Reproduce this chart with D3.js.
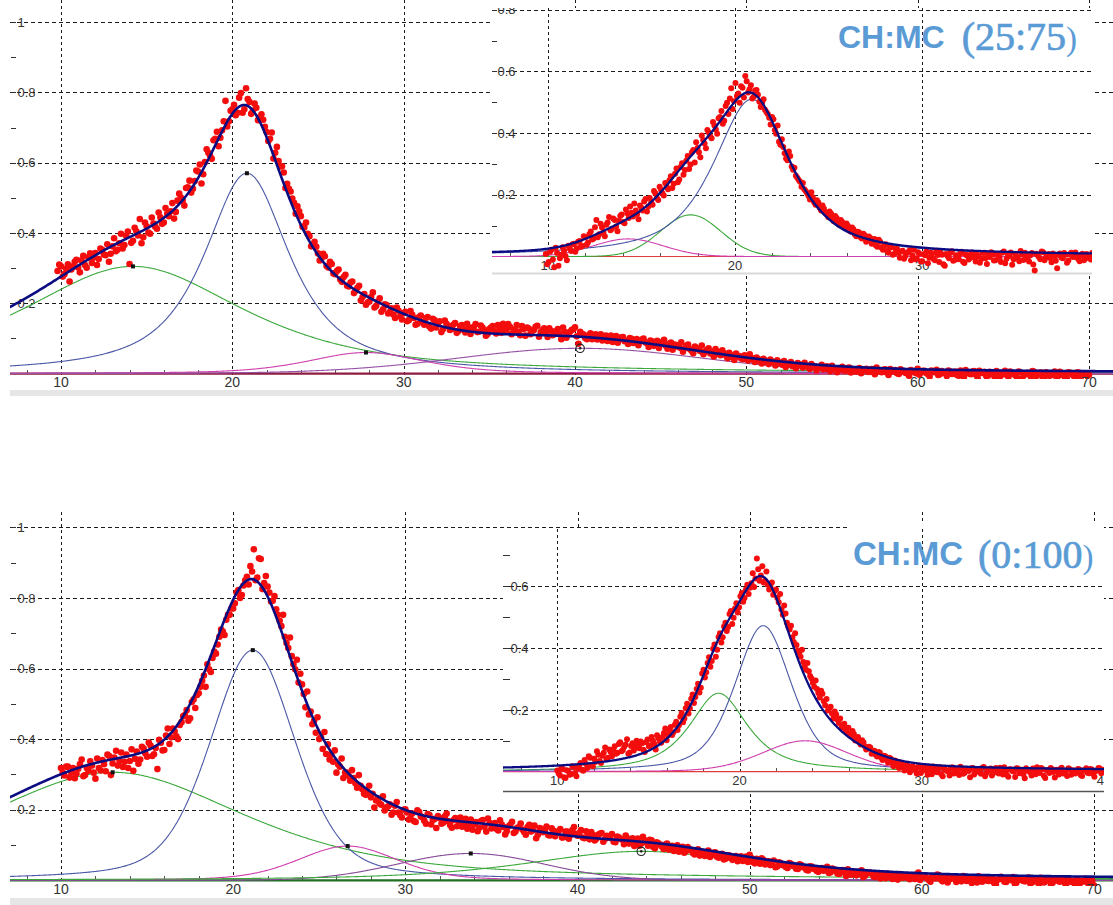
<!DOCTYPE html>
<html>
<head>
<meta charset="utf-8">
<script src="https://cdn.jsdelivr.net/npm/d3@7/dist/d3.min.js"></script>
<style>
  html, body { margin: 0; padding: 0; background: #ffffff; }
  svg { display: block; }
</style>
</head>
<body>
<script>
// ---------- measured intensities, two interleaved passes evenly stepped in 2θ ----------
const topMainStart = 9.8, topMainStep = 0.2;
const topMainCounts = [
.292,
.305,.283,.311,.296,.318, .302,.322,.309,.331,.315, .343,.326,.352,.337,.318, .362,.348,.371,.356,.392,
.312,.378,.405,.44,.388, .419,.398,.427,.412,.445, .43,.455,.462,.441,.492, .501,.478,.53,.515,.548,
.575,.541,.602,.628,.611, .668,.647,.692,.776,.718, .752,.735,.785,.742,.812, .773,.748,.756,.729,.722,
.687,.668,.612,.645,.589, .572,.54,.518,.486,.476, .448,.416,.398,.362,.375, .342,.328,.334,.302,.312,
.283,.296,.261,.281,.248, .262,.236,.25,.218,.196, .205,.231,.193,.214,.183, .195,.176,.168,.188,.163,
.172,.149,.178,.158,.142, .165,.139,.161,.128,.152, .145,.118,.151,.136,.127, .144,.121,.138,.117,.132,
.126,.141,.119,.131,.108, .127,.135,.114,.129,.142, .121,.133,.118,.138,.109, .127,.131,.112,.124,.136,
.118,.129,.104,.122,.115, .127,.098,.119,.111,.124, .132,.085,.113,.101,.109, .098,.112,.103,.094,.108,
.101,.09,.107,.097,.104, .093,.101,.087,.098,.091, .1,.086,.094,.079,.093, .085,.096,.071,.088,.083,
.077,.089,.072,.083,.065, .077,.069,.08,.063,.072, .061,.07,.055,.066,.052, .059,.046,.057,.05,.041,
.048,.055,.039,.046,.035, .042,.033,.04,.031,.038, .029,.036,.026,.033,.022, .03,.024,.031,.019,.027,
.021,.016,.025,.018,.012, .022,.015,.011,.019,.008, .017,.011,.006,.016,.009, .014,.005,.012,.017,.007,
.011,.003,.013,.008,.001, .012,.006,0,.01,.005, .014,.003,.008,-.002,.009, .004,-.004,.007,.001,.009,
-.001,.006,-.006,.004,.01, 0,.006,-.003,.008,.002, -.007,.005,-.002,.007,-.009, .003,-.004,.006,-.001,-.012,
.004,-.005,.002,-.008,.005, -.003,.003,-.01,.001,-.004, .006,-.007,0,-.011,.004, -.002,-.008,.003,-.005,.001,
-.003
];
const topMainMidStart = 9.9;
const topMainMidCounts = [
.31,
.276,.298,.262,.305,.324, .288,.335,.301,.342,.33, .309,.356,.339,.368,.341, .385,.352,.398,.366,.404,
.372,.415,.393,.371,.43, .401,.444,.418,.458,.426, .471,.448,.485,.46,.512, .492,.528,.549,.526,.578,
.595,.567,.638,.62,.664, .688,.671,.718,.703,.748, .765,.742,.798,.752,.781, .739,.768,.721,.738,.702,
.662,.686,.628,.605,.59, .528,.526,.498,.455,.462, .418,.43,.391,.368,.361, .322,.341,.306,.318,.285,
.292,.268,.275,.25,.259, .229,.244,.208,.226,.202, .218,.188,.205,.176,.197, .171,.186,.158,.179,.154,
.176,.152,.167,.139,.161, .146,.158,.134,.156,.131, .149,.127,.142,.124,.139, .116,.135,.125,.142,.113,
.133,.118,.137,.124,.113, .131,.12,.138,.116,.129, .141,.112,.126,.119,.135, .108,.128,.121,.133,.105,
.124,.117,.129,.109,.121, .114,.131,.102,.118,.126, .106,.119,.111,.098,.115, .106,.097,.112,.101,.093,
.108,.096,.088,.103,.092, .084,.099,.094,.081,.097, .089,.076,.092,.086,.073, .09,.079,.085,.068,.081,
.074,.062,.079,.07,.058, .073,.064,.055,.068,.057, .049,.063,.052,.058,.044, .052,.039,.049,.043,.052,
.037,.044,.033,.041,.029, .037,.027,.034,.023,.032, .025,.019,.029,.021,.015, .026,.017,.022,.013,.02,
.009,.018,.012,.021,.007, .014,.004,.013,.009,.016, .003,.012,.007,.001,.011, .005,.013,-.002,.009,.004,
.012,-.004,.006,.01,-.001, .008,.002,-.006,.007,.001, -.003,.008,.002,-.008,.005, .011,-.002,.003,-.007,.006,
.001,-.004,.009,-.01,.003, -.002,.007,-.013,.002,.005, -.006,.001,-.011,.004,-.003, .008,-.009,.002,-.005,.006,
-.014,.001,-.002,.007,-.008, .002,-.012,.004,-.006,.001, -.01,.005,-.004,-.014,.002, -.006,.003,-.011,-.001,-.007
];

const bottomMainStart = 10.0, bottomMainStep = 0.2;
const bottomMainCounts = [
.318,.297,.322,.305,.289, .316,.342,.298,.31,.325, .288,.318,.341,.309,.352, .331,.367,.338,.321,.356,
.338,.31,.365,.342,.373, .35,.382,.357,.315,.39, .369,.43,.405,.422,.4, .448,.468,.452,.505,.488,
.53,.565,.548,.598,.63, .642,.69,.705,.738,.752, .77,.815,.8,.835,.86, .89,.938,.858,.91,.842,
.832,.79,.805,.752,.72, .69,.658,.635,.598,.56, .555,.49,.47,.442,.418, .4,.372,.358,.342,.336,
.305,.322,.29,.305,.282, .29,.262,.268,.245,.25, .235,.206,.232,.214,.198, .209,.186,.211,.192,.178,
.201,.172,.189,.165,.193, .178,.16,.185,.171,.148, .176,.163,.189,.157,.171, .153,.178,.161,.146,.172,
.158,.139,.168,.152,.175, .147,.162,.141,.158,.13, .153,.166,.138,.151,.144, .129,.157,.142,.119,.148,
.136,.152,.127,.141,.133, .145,.122,.138,.129,.151, .126,.142,.119,.131,.137, .113,.129,.134,.117,.125,
.131,.108,.122,.115,.127, .104,.119,.111,.098,.123, .107,.115,.094,.108,.101, .089,.104,.096,.083,.099,
.091,.078,.094,.086,.073, .088,.076,.069,.084,.072, .079,.064,.075,.061,.071, .058,.069,.062,.055,.067,
.072,.051,.061,.047,.058, .05,.043,.056,.039,.049, .044,.035,.047,.041,.032, .043,.036,.028,.039,.031,
.024,.035,.029,.021,.033, .026,.018,.029,.012,.024, .02,.014,.025,.009,.019, .022,.011,.017,.005,.015,
.019,.008,.013,.002,.016, .01,.006,.015,.004,.022, .009,.013,.001,.011,.005, .014,-.003,.008,.002,.01,
-.005,.006,.012,-.002,.004, .009,-.006,.003,.007,-.001, .005,-.008,.002,.01,-.004, .004,0,-.009,.006,.001,
-.003,.008,-.006,.002,-.011, .003,-.002,.005,-.007,.001, -.004,.004,-.009,0,-.003, .003,-.008,-.001,-.006,.002,
-.015
];
const bottomMainMidStart = 10.1;
const bottomMainMidCounts = [
.305,.322,.291,.318,.302, .329,.295,.318,.337,.305, .345,.311,.329,.356,.298, .348,.325,.362,.336,.318,
.371,.344,.33,.378,.359, .39,.352,.375,.398,.368, .41,.386,.43,.408,.44, .465,.482,.459,.512,.525,
.548,.58,.612,.59,.648, .668,.71,.695,.752,.77, .785,.822,.808,.85,.838, .875,.85,.912,.825,.862,
.815,.792,.768,.735,.752, .672,.688,.612,.625,.585, .528,.535,.478,.452,.462, .405,.42,.385,.356,.368,
.328,.345,.305,.296,.312, .275,.298,.258,.242,.268, .245,.226,.218,.238,.206, .215,.192,.222,.185,.2,
.192,.176,.168,.198,.181, .169,.188,.158,.174,.182, .16,.181,.167,.149,.176, .168,.152,.174,.158,.143,
.165,.149,.171,.138,.162, .156,.145,.17,.151,.139, .158,.134,.149,.161,.137, .151,.138,.155,.129,.146,
.14,.128,.147,.125,.139, .121,.138,.118,.142,.131, .134,.121,.139,.116,.128, .118,.132,.109,.126,.12,
.109,.124,.117,.102,.119, .112,.097,.118,.104,.113, .098,.113,.091,.105,.096, .101,.087,.098,.09,.081,
.095,.082,.088,.077,.085, .07,.081,.074,.066,.078, .067,.074,.059,.07,.063, .065,.054,.068,.059,.052,
.063,.048,.055,.062,.045, .054,.046,.037,.051,.043, .038,.049,.041,.033,.045, .037,.029,.04,.033,.026,
.034,.027,.038,.023,.031, .019,.028,.022,.031,.016, .024,.017,.028,.013,.021, .018,.009,.02,.013,.006,
.017,.004,.011,.018,.007, .013,.003,.009,.017,.001, .012,.006,-.004,.009,.016, .002,.008,-.006,.011,.004,
.007,-.003,.01,.001,-.008, .005,.011,-.004,.006,-.002, .008,-.011,.003,.006,-.005, .002,.009,-.007,.004,-.002,
.005,-.009,.003,-.004,.007, -.006,.002,-.013,.004,-.001, .006,-.008,.002,-.005,-.012, .001,-.004,.004,-.01,-.002
];

const topInsetStart = 9.9, topInsetStep = 0.15;
const topInsetCounts = [
.008,-.018,.022,-.035,.011,-.006,.03,.002,.035,.018,
.041,.027,.05,.034,.062,.045,.081,.058,.118,.072,
.094,.066,.11,.085,.123,.097,.115,.136,.108,.14,
.162,.13,.149,.121,.158,.178,.146,.19,.168,.205,
.183,.216,.198,.228,.247,.222,.268,.241,.29,.265,
.31,.284,.338,.305,.352,.322,.378,.351,.402,.383,
.425,.398,.452,.43,.488,.462,.545,.503,.52,.498,
.547,.585,.532,.555,.518,.54,.502,.498,.476,.462,
.428,.445,.398,.372,.38,.335,.312,.326,.281,.262,
.248,.226,.218,.205,.185,.192,.168,.175,.149,.155,
.138,.146,.122,.131,.112,.118,.098,.107,.085,.094,
.071,.08,.062,.074,.048,.065,.041,.057,.032,.048,
.022,.04,.012,.031,.008,.025,-.004,.019,.002,.014,
-.012,.022,-.006,.009,-.015,.004,-.022,.012,-.008,.017,
-.018,.006,-.03,.002,.011,-.014,.004,-.009,.015,-.021,
.003,-.005,.009,-.016,.001,-.008,.012,-.024,-.002,.007,
-.012,.004,-.018,.016,-.007,.002,-.027,.009,-.004,.018,
-.011,.003,-.016,.011,-.045,.005,-.009,.014,-.003,.008,
-.019,.002,-.038,.01,-.006,.006,-.013,.012,-.002,.004,
-.015,.009,-.007,.003,-.01,.01
];
const topInsetMidStart = 9.975;
const topInsetMidCounts = [
-.025,.015,-.01,.028,-.03,.006,.019,-.012,.026,.04,
.015,.048,.032,.066,.038,.072,.055,.095,.062,.106,
.078,.103,.128,.09,.118,.082,.131,.112,.152,.125,
.142,.172,.138,.165,.149,.186,.162,.175,.212,.19,
.226,.205,.238,.218,.26,.236,.285,.25,.302,.28,
.326,.298,.345,.37,.338,.392,.366,.41,.39,.436,
.412,.448,.472,.44,.498,.512,.478,.562,.528,.552,
.515,.568,.542,.512,.538,.524,.485,.51,.468,.45,
.452,.41,.425,.362,.355,.318,.34,.292,.288,.255,
.242,.238,.212,.196,.208,.176,.182,.158,.165,.142,
.128,.139,.114,.125,.102,.112,.092,.1,.081,.088,
.066,.078,.058,.069,.052,.06,.045,.036,.054,.028,
.035,.018,.028,.006,.024,.011,.016,-.007,.012,.02,
.003,-.009,.014,-.016,.007,.016,-.004,.009,-.012,.005,
.012,-.025,.008,-.006,.017,-.011,.002,.009,-.017,.006,
-.01,.013,-.003,.006,-.02,.011,-.006,.004,.014,-.013,
.008,-.004,.012,-.022,.005,.013,-.009,.001,-.015,.007,
.012,-.008,.004,-.026,.009,-.002,.016,-.012,.003,-.005,
.01,-.014,.005,-.003,.011,-.02,.007,-.001,.013,-.008,
.004,-.012,.008,-.004,.011,-.006
];

const bottomInsetStart = 10.0, bottomInsetStep = 0.15;
const bottomInsetCounts = [
.004,-.012,.009,-.02,.002,-.008,.015,-.015,.021,.006,
.038,.012,.045,.018,.032,.055,.028,.061,.04,.072,
.05,.082,.061,.095,.07,.088,.058,.083,.069,.1,
.076,.092,.064,.104,.085,.1,.072,.108,.094,.125,
.102,.132,.119,.152,.135,.178,.16,.205,.188,.236,
.222,.268,.256,.318,.305,.352,.34,.398,.372,.436,
.418,.47,.455,.51,.478,.528,.515,.568,.55,.59,
.575,.61,.598,.69,.618,.665,.618,.605,.598,.573,
.59,.548,.525,.538,.482,.46,.435,.448,.392,.372,
.355,.33,.325,.302,.275,.268,.24,.252,.215,.198,
.21,.172,.185,.158,.142,.155,.128,.118,.132,.101,
.112,.088,.095,.072,.081,.058,.068,.049,.061,.038,
.05,.029,.042,.018,.034,.012,.026,.004,.021,-.002,
.018,.005,.015,-.004,.011,.003,.016,-.008,.009,-.002,
.014,-.015,.006,.001,.012,-.006,.008,-.011,.01,-.003,
.005,-.018,.012,0,.008,-.007,.015,-.004,.004,-.012,
.009,-.001,.013,-.009,.003,-.016,.007,.001,.011,-.005,
.006,-.021,.004,-.002,.01,-.008,.002,.012,-.013,.005,
-.004,.008,-.019,.003,.009,-.006,.001,.011,-.01,.004,
-.002,.007,-.014,.006,-.003,.009,-.007,.002,.012,-.005,
.006,-.001
];
const bottomInsetMidStart = 10.075;
const bottomInsetMidCounts = [
-.006,.012,-.018,.005,-.01,.018,-.004,.011,.028,.003,
.025,.05,.021,.042,.066,.035,.052,.078,.045,.064,
.072,.058,.09,.066,.081,.105,.062,.092,.078,.088,
.098,.071,.095,.082,.112,.09,.118,.098,.112,.14,
.118,.145,.128,.162,.15,.19,.172,.22,.205,.25,
.242,.285,.272,.33,.322,.37,.358,.412,.395,.448,
.435,.482,.468,.52,.498,.545,.532,.578,.562,.605,
.595,.642,.625,.655,.635,.612,.648,.59,.612,.585,
.562,.575,.508,.512,.47,.472,.42,.41,.385,.395,
.34,.352,.31,.288,.295,.255,.262,.228,.235,.205,
.188,.195,.168,.172,.148,.135,.142,.115,.122,.108,
.095,.102,.082,.074,.078,.062,.055,.064,.045,.052,
.038,.045,.028,.036,.02,.03,.015,.022,.008,.016,
.012,-.006,.019,.004,.013,-.01,.008,.017,.001,.012,
-.008,.01,.003,-.012,.014,.005,-.004,.016,-.007,.009,
.002,.011,-.009,.007,-.002,.013,-.015,.006,.01,-.004,
.012,-.006,.004,.014,-.011,.008,.002,-.017,.01,.003,
-.008,.011,.002,-.012,.007,.014,-.004,.009,-.02,.005,
.012,-.001,.006,-.009,.013,.002,-.014,.008,.004,-.006,
.009,-.011,.003,.011,-.005,.007,-.016,.004,.01,-.002,
.005,-.008
];

// ---------- fitted peaks: position, height, half width, Lorentzian fraction ----------
const topMainCenter    = [14.2, 20.85, 27.8, 40.3];
const topMainHeight    = [0.305, 0.57, 0.06, 0.072];
const topMainHalfWidth = [7.8, 3.0, 4.0, 8.5];
const topMainLorentz   = [0.75, 0.85, 0.5, 0.1];
const topMainOffset    = 0;

const topInsetCenter    = [17.63, 14.3, 20.9];
const topInsetHeight    = [0.135, 0.057, 0.51];
const topInsetHalfWidth = [1.9, 2.2, 2.45];
const topInsetLorentz   = [0, 0, 0.75];
const topInsetOffset    = 0.003;

const bottomMainCenter    = [13.0, 21.14, 26.65, 33.8, 43.7];
const bottomMainHeight    = [0.306, 0.652, 0.097, 0.076, 0.082];
const bottomMainHalfWidth = [9.3, 2.95, 3.4, 5.0, 7.8];
const bottomMainLorentz   = [0.65, 0.4, 0.3, 0, 0.6];
const bottomMainOffset    = 0;

const bottomInsetCenter    = [18.85, 21.3, 23.6];
const bottomInsetHeight    = [0.254, 0.4725, 0.1];
const bottomInsetHalfWidth = [1.9, 1.85, 2.8];
const bottomInsetLorentz   = [0.8, 0.5, 0.2];
const bottomInsetOffset    = 0.004;

// ---------- tick labels ----------
const mainXTicks = [10, 20, 30, 40, 50, 60, 70];
const mainYTicks = [0.2, 0.4, 0.6, 0.8, 1];
const topInsetXTicks = [10, 20, 30];
const bottomInsetXTicks = [10, 20, 30, 40];
const insetYTicks = [0.2, 0.4, 0.6, 0.8];

const topCaption = ["CH:MC", "(25:75", ")"];
const bottomCaption = ["CH:MC", "(0:100", ")"];

// ---------- styles ----------
const GREEN = "#3ca83c", BLUE = "#4b58a6", MAGENTA = "#cf3fae", PURPLE = "#9552a6", PLUM = "#874a98";
const FIT = "#0c0c82", DOT = "#f40d0d", GRID = "#1c1c1c", TEXT = "#333333";
const FONT = "'Liberation Sans', Arial, sans-serif";
const SERIF = "'Liberation Serif', 'Times New Roman', serif";

const svg = d3.select("body").append("svg").attr("width", 1113).attr("height", 905);
const defs = svg.append("defs");
let clipCount = 0;
function clipRect(x, y, w, h) {
  const id = "clip-" + (clipCount++);
  defs.append("clipPath").attr("id", id).append("rect")
    .attr("x", x).attr("y", y).attr("width", w).attr("height", h);
  return "url(#" + id + ")";
}

// pseudo-Voigt profile
function profile(t, c, h, w, eta) {
  const u = (t - c) / w, u2 = u * u;
  return h * (eta / (1 + u2) + (1 - eta) * Math.exp(-Math.LN2 * u2));
}

function drawPanel(L, D) {
  const x = d3.scaleLinear().domain(L.xDomain).range(L.xRange);
  const y = d3.scaleLinear().domain([0, 0.2]).range(L.yRange);
  const [bx, by, bw, bh] = L.box;
  const snap = v => Math.round(v) + 0.5;
  const root = svg.append("g");
  if (L.opaque) {
    root.append("rect").attr("x", bx).attr("y", by).attr("width", bw).attr("height", bh).attr("fill", "#fff");
  }
  if (L.edge) {
    root.append("line").attr("x1", bx).attr("x2", bx + bw).attr("y1", L.edge.y).attr("y2", L.edge.y)
      .attr("stroke", L.edge.color).attr("stroke-width", L.edge.width);
  }
  if (L.strip) {
    root.append("rect").attr("x", L.strip[0]).attr("y", L.strip[1]).attr("width", L.strip[2]).attr("height", L.strip[3])
      .attr("fill", "#e6e6e6");
  }
  const g = root.append("g").attr("clip-path", clipRect(bx, by, bw, bh));

  // grid
  g.append("g").selectAll("line").data(D.yTicks).join("line")
    .attr("x1", bx).attr("x2", bx + bw)
    .attr("y1", v => snap(y(v))).attr("y2", v => snap(y(v)))
    .attr("stroke", GRID).attr("stroke-dasharray", "4,3").attr("shape-rendering", "crispEdges");
  g.append("g").selectAll("line").data(D.xTicks).join("line")
    .attr("x1", v => snap(x(v))).attr("x2", v => snap(x(v)))
    .attr("y1", by).attr("y2", y(0) + L.gridBelow)
    .attr("stroke", GRID).attr("stroke-dasharray", "3,3").attr("shape-rendering", "crispEdges");

  // y ticks every 0.1, labels on the major ones
  const yStops = d3.range(1, Math.round(L.yMax * 10) + 1).map(i => i / 10);
  g.append("g").selectAll("line").data(yStops).join("line")
    .attr("x1", L.tickX[0]).attr("x2", L.tickX[1])
    .attr("y1", v => snap(y(v))).attr("y2", v => snap(y(v)))
    .attr("stroke", TEXT).attr("shape-rendering", "crispEdges");
  g.append("g").selectAll("text").data(D.yTicks).join("text")
    .attr("x", L.labelX).attr("y", v => y(v)).attr("dy", "0.36em")
    .attr("font-family", FONT).attr("font-size", L.fontY).attr("fill", TEXT)
    .text(v => v === 1 ? "1" : v.toFixed(1));

  // x minor ticks every 2
  const xStops = d3.range(8, L.xMax + 0.1, 2).filter(v => v % 10 !== 0);
  g.append("g").selectAll("line").data(xStops).join("line")
    .attr("x1", v => snap(x(v))).attr("x2", v => snap(x(v)))
    .attr("y1", y(0)).attr("y2", y(0) - 4)
    .attr("stroke", "#555").attr("shape-rendering", "crispEdges");
  const xl = (L.opaque ? g : root).append("g");
  xl.selectAll("text").data(D.xTicks).join("text")
    .attr("x", v => x(v)).attr("y", L.xLabelY).attr("text-anchor", "middle")
    .attr("font-family", FONT).attr("font-size", L.fontX).attr("fill", TEXT)
    .text(v => String(v));

  // zero line of the fit
  const grid = d3.range(L.curve[0], L.curve[1] + 1e-9, 0.05);
  g.append("path")
    .attr("d", d3.line().x(t => x(t)).y(() => y(0))(grid))
    .attr("fill", "none").attr("stroke", L.zeroColor).attr("stroke-width", L.zeroWidth);

  // components
  D.center.forEach((c, i) => {
    const line = d3.line().x(t => x(t)).y(t => y(profile(t, c, D.height[i], D.halfWidth[i], D.lorentz[i])));
    g.append("path").attr("d", line(grid))
      .attr("fill", "none").attr("stroke", L.colors[i]).attr("stroke-width", 1.1);
  });

  // measured points
  const pts = D.series.flatMap(([start, step, counts]) => counts.map((v, i) => [start + i * step, v]));
  g.append("g").selectAll("circle").data(pts).join("circle")
    .attr("cx", p => x(p[0])).attr("cy", p => y(p[1])).attr("r", L.dotR)
    .attr("fill", DOT);

  // sum of components
  const total = t => D.offset + D.center.reduce((s, c, i) =>
    s + profile(t, c, D.height[i], D.halfWidth[i], D.lorentz[i]), 0);
  g.append("path")
    .attr("d", d3.line().x(t => x(t)).y(t => y(total(t)))(grid))
    .attr("fill", "none").attr("stroke", FIT).attr("stroke-width", L.fitWidth)
    .attr("stroke-linejoin", "round");

  // peak-top handles
  if (L.handles) {
    D.center.forEach((c, i) => {
      const px = x(c), py = y(D.height[i]);
      if (i === L.selected) {
        g.append("circle").attr("cx", px).attr("cy", py).attr("r", 4.2)
          .attr("fill", "none").attr("stroke", "#222").attr("stroke-width", 1.1);
        g.append("circle").attr("cx", px).attr("cy", py).attr("r", 1.3).attr("fill", "#222");
      } else {
        g.append("rect").attr("x", px - 2).attr("y", py - 2).attr("width", 4).attr("height", 4).attr("fill", "#111");
      }
    });
  }
}

function caption(words, x, y, sansSize, serifSize, closeSize, gap) {
  const t = svg.append("text").attr("x", x).attr("y", y).attr("fill", "#5b9bd5");
  t.append("tspan").attr("font-family", FONT).attr("font-weight", "bold")
    .attr("font-size", sansSize).text(words[0]);
  t.append("tspan").attr("dx", gap).attr("dy", 2.5)
    .attr("font-family", SERIF).attr("font-size", serifSize)
    .attr("stroke", "#5b9bd5").attr("stroke-width", 0.7).text(words[1]);
  t.append("tspan")
    .attr("font-family", SERIF).attr("font-size", closeSize).text(words[2]);
}

// ---------- wide scans ----------
drawPanel({
  box: [10, 0, 1103, 379], xDomain: [10, 70], xRange: [61, 1089], yRange: [373.6, 303.3],
  xMax: 70, yMax: 1, tickX: [11, 16], labelX: 17.5, fontY: 13, fontX: 14, xLabelY: 387,
  gridBelow: 3, curve: [7, 72], dotR: 3.3, fitWidth: 2.6, strip: [10, 390, 1103, 6],
  zeroColor: "#8e1b40", zeroWidth: 2.2, colors: [GREEN, BLUE, MAGENTA, PURPLE],
  handles: true, selected: 3
}, {
  xTicks: mainXTicks, yTicks: mainYTicks,
  series: [[topMainStart, topMainStep, topMainCounts], [topMainMidStart, topMainStep, topMainMidCounts]],
  center: topMainCenter, height: topMainHeight, halfWidth: topMainHalfWidth, lorentz: topMainLorentz,
  offset: topMainOffset
});

drawPanel({
  box: [10, 512, 1103, 374], xDomain: [10, 70], xRange: [61, 1094], yRange: [880.3, 809.7],
  xMax: 70, yMax: 1, tickX: [11, 16], labelX: 17.5, fontY: 13, fontX: 14, xLabelY: 894,
  gridBelow: 3, curve: [7, 72], dotR: 3.3, fitWidth: 2.6, strip: [10, 898, 1103, 7],
  zeroColor: "#1f6e22", zeroWidth: 2.2, colors: [GREEN, BLUE, MAGENTA, PLUM, GREEN],
  handles: true, selected: 4
}, {
  xTicks: mainXTicks, yTicks: mainYTicks,
  series: [[bottomMainStart, bottomMainStep, bottomMainCounts], [bottomMainMidStart, bottomMainStep, bottomMainMidCounts]],
  center: bottomMainCenter, height: bottomMainHeight, halfWidth: bottomMainHalfWidth, lorentz: bottomMainLorentz,
  offset: bottomMainOffset
});

// ---------- close-ups ----------
drawPanel({
  box: [492, 8, 600, 266], xDomain: [10, 30], xRange: [547.7, 922.3], yRange: [256.5, 194.8],
  xMax: 38, yMax: 0.8, tickX: [492, 497], labelX: 497.5, fontY: 13, fontX: 13, xLabelY: 270,
  gridBelow: 0, curve: [7, 40], dotR: 3.0, fitWidth: 2.3, opaque: true,
  edge: { y: 273.5, color: "#d9d9d9", width: 2 },
  zeroColor: "#e23b3b", zeroWidth: 1.2, colors: [GREEN, MAGENTA, BLUE], handles: false
}, {
  xTicks: topInsetXTicks, yTicks: insetYTicks,
  series: [[topInsetStart, topInsetStep, topInsetCounts], [topInsetMidStart, topInsetStep, topInsetMidCounts]],
  center: topInsetCenter, height: topInsetHeight, halfWidth: topInsetHalfWidth, lorentz: topInsetLorentz,
  offset: topInsetOffset
});
caption(topCaption, 838, 47.5, 32, 40, 33, 17);

svg.append("rect").attr("x", 848).attr("y", 524).attr("width", 256).attr("height", 6).attr("fill", "#fff");
drawPanel({
  box: [503, 529, 601, 263], xDomain: [10, 40], xRange: [557.3, 1104], yRange: [771.7, 709.9],
  xMax: 40, yMax: 0.7, tickX: [503, 510], labelX: 510.5, fontY: 13, fontX: 13, xLabelY: 785,
  gridBelow: 0, curve: [7, 41], dotR: 3.0, fitWidth: 2.3, opaque: true,
  edge: { y: 791.5, color: "#555555", width: 1.3 },
  zeroColor: "#e23b3b", zeroWidth: 1.2, colors: [GREEN, BLUE, MAGENTA], handles: false
}, {
  xTicks: bottomInsetXTicks, yTicks: insetYTicks,
  series: [[bottomInsetStart, bottomInsetStep, bottomInsetCounts], [bottomInsetMidStart, bottomInsetStep, bottomInsetMidCounts]],
  center: bottomInsetCenter, height: bottomInsetHeight, halfWidth: bottomInsetHalfWidth, lorentz: bottomInsetLorentz,
  offset: bottomInsetOffset
});
caption(bottomCaption, 853, 565, 33, 40, 33, 15);
</script>
</body>
</html>
